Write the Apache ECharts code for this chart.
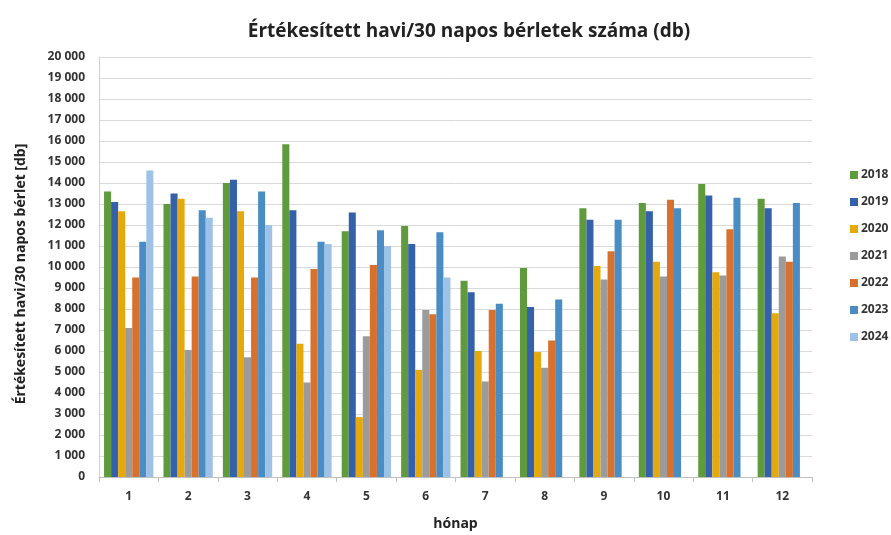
<!DOCTYPE html>
<html>
<head>
<meta charset="utf-8">
<script src="https://cdn.jsdelivr.net/npm/echarts@6/dist/echarts.min.js"></script>
<style>
  html, body { margin: 0; padding: 0; background: #ffffff; }
  #chart { width: 891px; height: 535px; }
</style>
</head>
<body>
<div id="chart"></div>
<script>
// Months on the category axis
const months = ['1', '2', '3', '4', '5', '6', '7', '8', '9', '10', '11', '12'];

// Monthly passes sold per year (pieces); null = no data yet
const y2018 = [13600, 13000, 14000, 15850, 11700, 11950, 9350, 9950, 12800, 13050, 13950, 13250];
const y2019 = [13100, 13500, 14150, 12700, 12600, 11100, 8800, 8100, 12250, 12650, 13400, 12800];
const y2020 = [12650, 13250, 12650, 6350, 2850, 5100, 6000, 5950, 10050, 10250, 9750, 7800];
const y2021 = [7100, 6050, 5700, 4500, 6700, 7950, 4550, 5200, 9400, 9550, 9600, 10500];
const y2022 = [9500, 9550, 9500, 9900, 10100, 7750, 7950, 6500, 10750, 13200, 11800, 10250];
const y2023 = [11200, 12700, 13600, 11200, 11750, 11650, 8250, 8450, 12250, 12800, 13300, 13050];
const y2024 = [14600, 12350, 12000, 11100, 11000, 9500, null, null, null, null, null, null];

const yearNames = ['2018', '2019', '2020', '2021', '2022', '2023', '2024'];
const yearData = [y2018, y2019, y2020, y2021, y2022, y2023, y2024];
const yearColors = ['#5f9a3c', '#3461aa', '#e6a90c', '#9b9b9b', '#d8712d', '#4a8cc4', '#9ec2e6'];

const fontFamily = '"Open Sans", "Noto Sans", sans-serif';

function fmtThousands(v) {
  return String(v).replace(/\B(?=(\d{3})+(?!\d))/g, ' ');
}

const chart = echarts.init(document.getElementById('chart'));

chart.setOption({
  animation: false,
  backgroundColor: '#ffffff',
  color: yearColors,
  textStyle: { fontFamily: fontFamily },
  title: {
    text: 'Értékesített havi/30 napos bérletek száma (db)',
    left: 464,
    textAlign: 'center',
    top: 17,
    textStyle: { fontFamily: fontFamily, fontSize: 19, fontWeight: 'bold', color: '#222222' }
  },
  legend: {
    orient: 'vertical',
    left: 845,
    top: 164,
    itemWidth: 8,
    itemHeight: 8,
    itemGap: 15,
    icon: 'rect',
    data: yearNames,
    textStyle: { fontFamily: fontFamily, fontSize: 12, fontWeight: 'bold', color: '#333333', padding: [0, 0, 0, -2] }
  },
  grid: { left: 99, right: 79, top: 57, bottom: 58, containLabel: false, outerBoundsMode: 'none' },
  xAxis: {
    type: 'category',
    data: months,
    name: 'hónap',
    nameLocation: 'middle',
    nameGap: 40,
    nameTextStyle: { fontFamily: fontFamily, fontSize: 14, fontWeight: 'bold', color: '#222222' },
    axisLine: { lineStyle: { color: '#bfbfbf', width: 1 } },
    axisTick: { show: true, length: 5, lineStyle: { color: '#bfbfbf' } },
    axisLabel: { margin: 14, fontFamily: fontFamily, fontSize: 12, fontWeight: 'bold', color: '#333333' }
  },
  yAxis: {
    type: 'value',
    min: 0,
    max: 20000,
    interval: 1000,
    name: 'Értékesített havi/30 napos bérlet [db]',
    nameLocation: 'middle',
    nameGap: 71,
    nameRotate: 90,
    nameTextStyle: { fontFamily: fontFamily, fontSize: 14, fontWeight: 'bold', color: '#222222', padding: [0, 14, 0, 0] },
    axisLine: { show: true, lineStyle: { color: '#d0d0d0' } },
    axisTick: { show: false },
    splitLine: { lineStyle: { color: '#d9d9d9', width: 1 } },
    axisLabel: {
      margin: 14,
      fontFamily: fontFamily, fontSize: 12, fontWeight: 'bold', color: '#333333',
      formatter: fmtThousands
    }
  },
  series: yearNames.map((name, i) => ({
    name: name,
    type: 'bar',
    data: yearData[i],
    barGap: '0%',
    barCategoryGap: '17%',
    itemStyle: { color: yearColors[i] }
  }))
});
</script>
</body>
</html>
